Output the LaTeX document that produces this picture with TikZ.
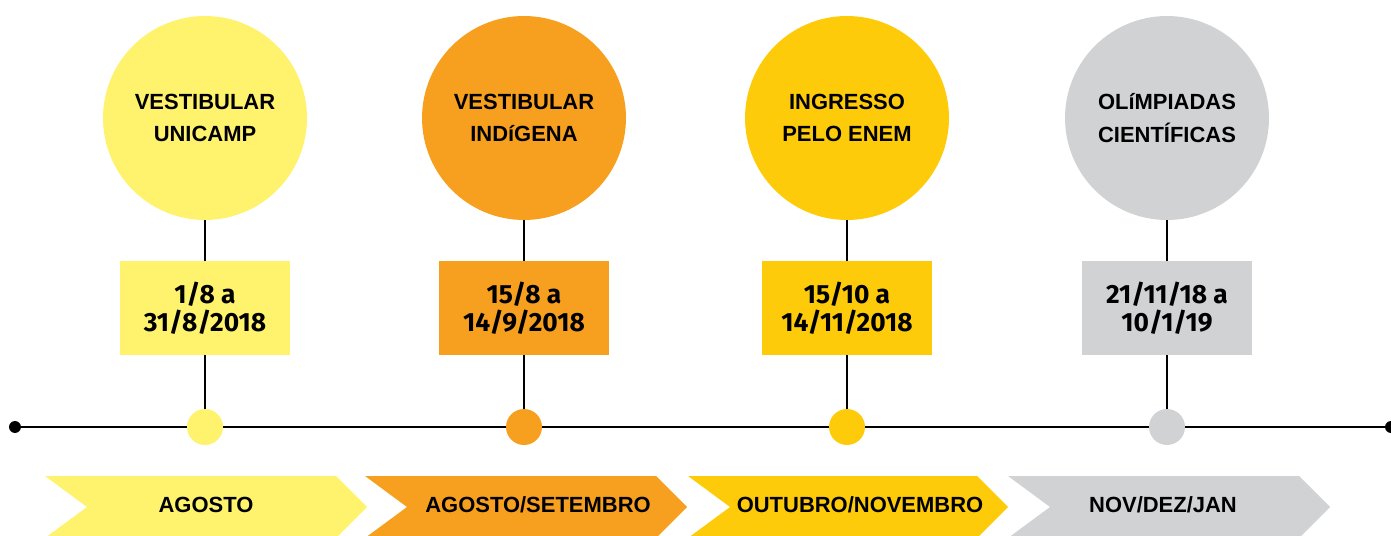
\documentclass[tikz,border=0pt]{standalone}
\usepackage{fontspec}
\setmainfont{Liberation Sans}
\newfontfamily\datefont{Fira Sans}
\definecolor{paleyellow}{HTML}{FFF36D}
\definecolor{deeporange}{HTML}{F7A01F}
\definecolor{goldyellow}{HTML}{FECB0A}
\definecolor{lightgrey}{HTML}{D1D2D4}
\tikzset{
  event/.style={circle,fill=#1,minimum size=4.08cm,inner sep=0pt,align=center,
    font=\bfseries\fontsize{12.5}{18.5}\selectfont},
  datebox/.style={rectangle,fill=#1,minimum width=3.4cm,minimum height=1.88cm,inner sep=0pt,align=center,
    font=\datefont\bfseries\fontsize{15}{16}\selectfont},
  tickdot/.style={circle,fill=#1,minimum size=0.72cm,inner sep=0pt},
  enddot/.style={circle,fill=black,minimum size=0.24cm,inner sep=0pt},
  monthlabel/.style={font=\bfseries\fontsize{12.5}{15}\selectfont},
  stem/.style={line width=1.3pt}
}
\begin{document}
\begin{tikzpicture}[x=0.02cm,y=-0.02cm]
\useasboundingbox (0,0) rectangle (1391,536);

% Timeline
\node[enddot] (tstart) at (15,427) {};
\node[enddot] (tend) at (1391,427) {};
\draw[stem] (tstart) -- (tend);

% Events
\node[event=paleyellow] (c1) at (205,118) {VESTIBULAR\\UNICAMP};
\node[event=deeporange] (c2) at (524,118) {VESTIBULAR\\INDíGENA};
\node[event=goldyellow] (c3) at (847,118) {INGRESSO\\PELO ENEM};
\node[event=lightgrey] (c4) at (1167,118) {OLíMPIADAS\\CIENTÍFICAS};

% Dates
\node[datebox=paleyellow] (d1) at (205,308) {1/8 a\\31/8/2018};
\node[datebox=deeporange] (d2) at (524,308) {15/8 a\\14/9/2018};
\node[datebox=goldyellow] (d3) at (847,308) {15/10 a\\14/11/2018};
\node[datebox=lightgrey] (d4) at (1167,308) {21/11/18 a\\10/1/19};

% Points on the timeline
\node[tickdot=paleyellow] (p1) at (205,427) {};
\node[tickdot=deeporange] (p2) at (524,427) {};
\node[tickdot=goldyellow] (p3) at (847,427) {};
\node[tickdot=lightgrey] (p4) at (1167,427) {};

% Stems
\draw[stem] (c1) -- (d1);
\draw[stem] (d1) -- (p1);
\draw[stem] (c2) -- (d2);
\draw[stem] (d2) -- (p2);
\draw[stem] (c3) -- (d3);
\draw[stem] (d3) -- (p3);
\draw[stem] (c4) -- (d4);
\draw[stem] (d4) -- (p4);

% Months
\fill[paleyellow] (45,476) -- (336,476) -- (367,507) -- (336,538) -- (45,538) -- (87,507) -- cycle;
\fill[deeporange] (365,476) -- (656,476) -- (687,507) -- (656,538) -- (365,538) -- (407,507) -- cycle;
\fill[goldyellow] (688,476) -- (977,476) -- (1008,507) -- (977,538) -- (688,538) -- (730,507) -- cycle;
\fill[lightgrey] (1008,476) -- (1299,476) -- (1330,507) -- (1299,538) -- (1008,538) -- (1050,507) -- cycle;
\node[monthlabel] (m1) at (206,505) {AGOSTO};
\node[monthlabel] (m2) at (538,505) {AGOSTO/SETEMBRO};
\node[monthlabel] (m3) at (860,505) {OUTUBRO/NOVEMBRO};
\node[monthlabel] (m4) at (1163,505) {NOV/DEZ/JAN};

\end{tikzpicture}
\end{document}
